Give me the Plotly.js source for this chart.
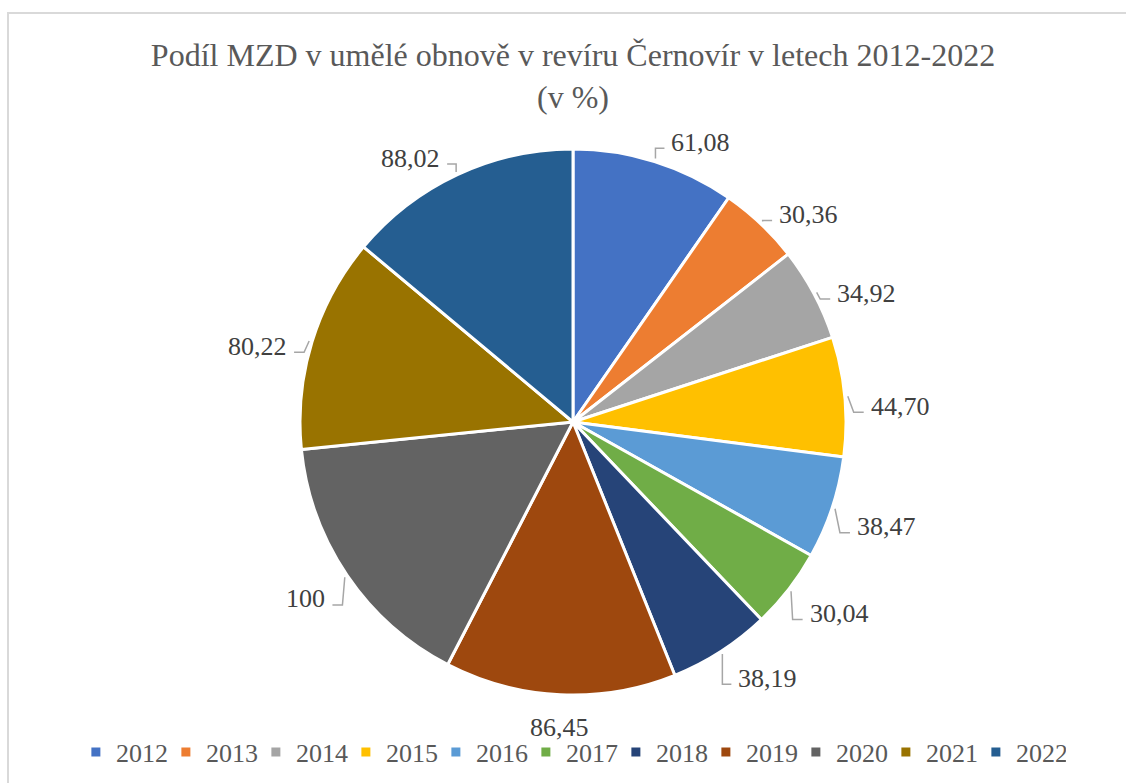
<!DOCTYPE html>
<html>
<head>
<meta charset="utf-8">
<script src="https://cdn.plot.ly/plotly-3.0.1.min.js"></script>
<style>html,body{margin:0;padding:0;background:#fff;}#chart{width:1126px;height:783px;}</style>
</head>
<body>
<div id="chart"></div>
<script>
const years = ['2012','2013','2014','2015','2016','2017','2018','2019','2020','2021','2022'];
const values = [61.08, 30.36, 34.92, 44.70, 38.47, 30.04, 38.19, 86.45, 100, 80.22, 88.02];
const valueLabels = ['61,08','30,36','34,92','44,70','38,47','30,04','38,19','86,45','100','80,22','88,02'];
const colors = ['#4472C4','#ED7D31','#A5A5A5','#FFC000','#5B9BD5','#70AD47','#264478','#9E480E','#636363','#997300','#255E91'];

const FAMILY = 'Liberation Serif';
const W = 1126, H = 783;
const M = {l: 20, r: 0, t: 149, b: 88};
const plotW = W - M.l - M.r, plotH = H - M.t - M.b;
const R = Math.min(plotW, plotH) / 2;
const cx = M.l + plotW / 2, cy = M.t + plotH / 2;
const px2x = px => (px - M.l) / plotW;
const py2y = py => (M.t + plotH - py) / plotH;

const total = values.reduce((a, b) => a + b, 0);
const shapes = [];
const annotations = [];
let cum = 0;
values.forEach((v, i) => {
  const mid = (cum + v / 2) / total * 2 * Math.PI;
  cum += v;
  const s = Math.sin(mid), c = Math.cos(mid);
  const side = s > 0.12 ? 1 : (s < -0.12 ? -1 : 0);
  const font = {family: FAMILY, size: 26, color: '#404040'};
  if (side !== 0) {
    const p0x = cx + (R + 3) * s, p0y = cy - (R + 3) * c;
    let tx = cx + (R + 24) * s;
    const ty = cy - (R + 24) * c + 12 * Math.abs(s);
    tx = side > 0 ? Math.max(tx, p0x + 14) : Math.min(tx, p0x - 14);
    const lineY = ty + 6;
    const p2x = tx - side * 5;
    const p1x = side > 0 ? Math.max(p0x, p2x - 10) : Math.min(p0x, p2x + 10);
    shapes.push({
      type: 'path', xref: 'paper', yref: 'paper',
      path: `M ${px2x(p0x)} ${py2y(p0y)} L ${px2x(p1x)} ${py2y(lineY)} L ${px2x(p2x)} ${py2y(lineY)}`,
      line: {color: '#A6A6A6', width: 1.5}
    });
    annotations.push({
      xref: 'paper', yref: 'paper', x: px2x(tx), y: py2y(ty),
      xanchor: side > 0 ? 'left' : 'right', yanchor: 'middle',
      text: valueLabels[i], showarrow: false, font: font
    });
  } else {
    const tx = cx + (R + 16) * s, ty = cy - (R + 16) * c;
    annotations.push({
      xref: 'paper', yref: 'paper', x: px2x(tx), y: py2y(ty),
      xanchor: 'center', yanchor: c < 0 ? 'top' : 'bottom',
      text: valueLabels[i], showarrow: false, font: font
    });
  }
});

// chart area border
shapes.push({
  type: 'rect', xref: 'paper', yref: 'paper', layer: 'below',
  x0: px2x(8), x1: px2x(1140), y0: py2y(13), y1: py2y(800),
  line: {color: '#D9D9D9', width: 2}, fillcolor: 'rgba(0,0,0,0)'
});

const trace = {
  type: 'pie',
  labels: years,
  values: values,
  sort: false,
  direction: 'clockwise',
  rotation: 0,
  textinfo: 'none',
  hoverinfo: 'label+value',
  marker: {colors: colors, line: {color: '#FFFFFF', width: 3}},
  domain: {x: [0, 1], y: [0, 1]}
};

const layout = {
  width: W, height: H,
  margin: M,
  paper_bgcolor: '#FFFFFF',
  title: {
    text: 'Podíl MZD v umělé obnově v revíru Černovír v letech 2012-2022<br>(v %)',
    font: {family: FAMILY, size: 32, color: '#595959'},
    xref: 'paper', x: 0.5, xanchor: 'center',
    yref: 'container', y: 1 - 66 / H, yanchor: 'top'
  },
  showlegend: true,
  legend: {
    orientation: 'h',
    xref: 'container', x: 0.507, xanchor: 'center',
    yref: 'container', y: (H - 752) / H, yanchor: 'middle',
    font: {family: FAMILY, size: 26, color: '#595959'},
    itemwidth: 30,
    entrywidth: 45,
    traceorder: 'normal'
  },
  shapes: shapes,
  annotations: annotations
};

Plotly.newPlot('chart', [trace], layout, {displayModeBar: false, staticPlot: true});
</script>
</body>
</html>
